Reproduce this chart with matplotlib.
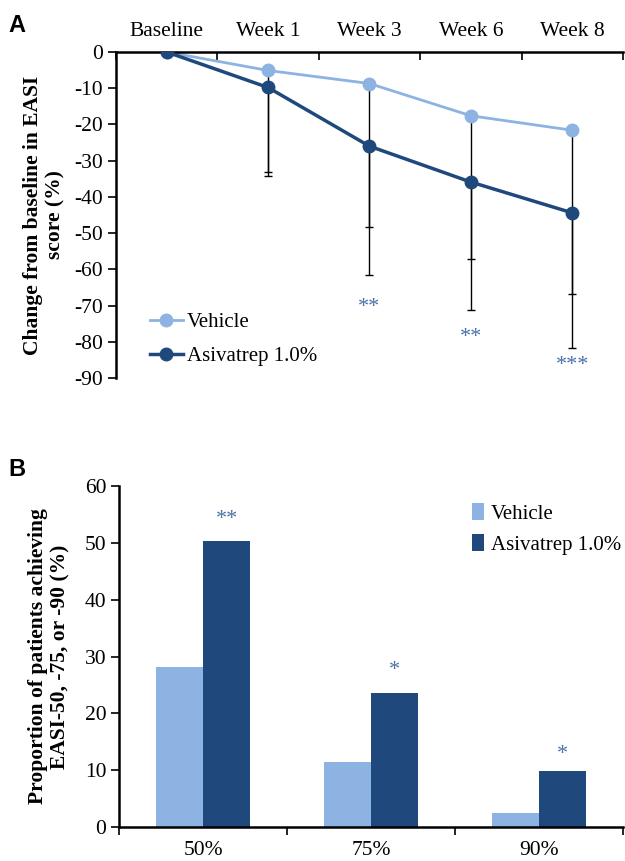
import numpy as np
import matplotlib
matplotlib.use("Agg")
import matplotlib.pyplot as plt

plt.rcParams['font.family'] = ['Liberation Serif', 'DejaVu Serif']
plt.rcParams['axes.unicode_minus'] = False

# Panel A data
weeks = ["Baseline", "Week 1", "Week 3", "Week 6", "Week 8"]
vehicle_mean = [0, -5.1, -8.7, -17.6, -21.6]
asiva_mean = [0, -9.8, -26.0, -35.9, -44.4]
vehicle_sd = [0, 28.0, 39.6, 39.6, 45.2]
asiva_sd = [0, 24.4, 35.7, 35.2, 37.3]
sig_a_pos = [2, 3, 4]
sig_a_y = [-70.5, -78.8, -86.6]
sig_a_txt = ["**", "**", "***"]

# Panel B data
thresholds = ["50%", "75%", "90%"]
vehicle_pct = [28.2, 11.4, 2.5]
asiva_pct = [50.3, 23.5, 9.8]
sig_b_y = [54.1, 27.5, 12.7]
sig_b_txt = ["**", "*", "*"]

light = "#8DB3E2"
dark = "#1F497D"
star = "#4A72A8"

fig = plt.figure(figsize=(6.25, 8.61), dpi=100)

# ---- Panel A ----
ax = fig.add_axes([0.1856, 0.561, 0.811, 0.3786])
x = np.arange(len(weeks))
ax.errorbar(x[1:], vehicle_mean[1:], yerr=[vehicle_sd[1:], np.zeros(4)], fmt='none',
            ecolor='black', elinewidth=1, capsize=3, capthick=1, zorder=1)
ax.errorbar(x[1:], asiva_mean[1:], yerr=[asiva_sd[1:], np.zeros(4)], fmt='none',
            ecolor='black', elinewidth=1, capsize=3, capthick=1, zorder=1)
ax.plot(x, vehicle_mean, color=light, lw=2, marker='o', ms=9, label="Vehicle", zorder=2)
ax.plot(x, asiva_mean, color=dark, lw=2.5, marker='o', ms=9, label="Asivatrep 1.0%", zorder=3)
for p, yv, t in zip(sig_a_pos, sig_a_y, sig_a_txt):
    ax.text(p, yv, t, color=star, ha='center', va='center', fontsize=16)

ax.set_xlim(-0.5, 4.5)
ax.set_ylim(-90, 0)
ax.set_yticks(np.arange(-90, 1, 10))
ax.set_xticks(np.arange(-0.5, 5, 1))
ax.set_xticklabels([])
ax.set_xticks(x, minor=True)
ax.set_xticklabels(weeks, minor=True)
ax.xaxis.tick_top()
ax.tick_params(axis='x', which='minor', length=0, pad=8, labelsize=15.5)
ax.tick_params(axis='x', which='major', direction='in', length=6, width=1.2)
ax.tick_params(axis='y', direction='out', length=6, width=1.2, labelsize=15.5)
for s in ['right', 'bottom']:
    ax.spines[s].set_visible(False)
for s in ['left', 'top']:
    ax.spines[s].set_linewidth(1.8)
ax.set_ylabel("Change from baseline in EASI\nscore (%)", fontsize=15.5, fontweight='bold', labelpad=6)
ax.legend(loc='lower left', bbox_to_anchor=(0.05, 0.01), frameon=False, fontsize=15,
          handlelength=1.6, handletextpad=0.2, labelspacing=0.7, borderaxespad=0)
fig.text(0.014, 0.97, "A", fontsize=17, fontweight='bold', family='Liberation Sans', va='center')

# ---- Panel B ----
bx = fig.add_axes([0.191, 0.0395, 0.806, 0.396])
xb = np.arange(len(thresholds))
w = 0.28
bx.bar(xb - w / 2, vehicle_pct, width=w, color=light, label="Vehicle")
bx.bar(xb + w / 2, asiva_pct, width=w, color=dark, label="Asivatrep 1.0%")
for p, yv, t in zip(xb, sig_b_y, sig_b_txt):
    bx.text(p + w / 2, yv, t, color=star, ha='center', va='center', fontsize=16)
bx.set_xlim(-0.5, 2.5)
bx.set_ylim(0, 60)
bx.set_yticks(np.arange(0, 61, 10))
bx.set_xticks(np.arange(-0.5, 3, 1))
bx.set_xticklabels([])
bx.set_xticks(xb, minor=True)
bx.set_xticklabels(thresholds, minor=True)
bx.tick_params(axis='x', which='minor', length=0, pad=10, labelsize=15.5)
bx.tick_params(axis='x', which='major', direction='out', length=6, width=1.2)
bx.tick_params(axis='y', direction='out', length=6, width=1.2, labelsize=15.5)
for s in ['right', 'top']:
    bx.spines[s].set_visible(False)
for s in ['left', 'bottom']:
    bx.spines[s].set_linewidth(1.8)
bx.set_ylabel("Proportion of patients achieving\nEASI-50, -75, or -90 (%)", fontsize=15.5,
              fontweight='bold', labelpad=10)
bx.legend(loc='upper right', bbox_to_anchor=(1.012, 0.975), frameon=False, fontsize=15,
          handlelength=0.6, handleheight=0.9, handletextpad=0.3, labelspacing=0.5, borderaxespad=0)
fig.text(0.014, 0.455, "B", fontsize=17, fontweight='bold', family='Liberation Sans', va='center')

fig.savefig("out.png", dpi=100)
